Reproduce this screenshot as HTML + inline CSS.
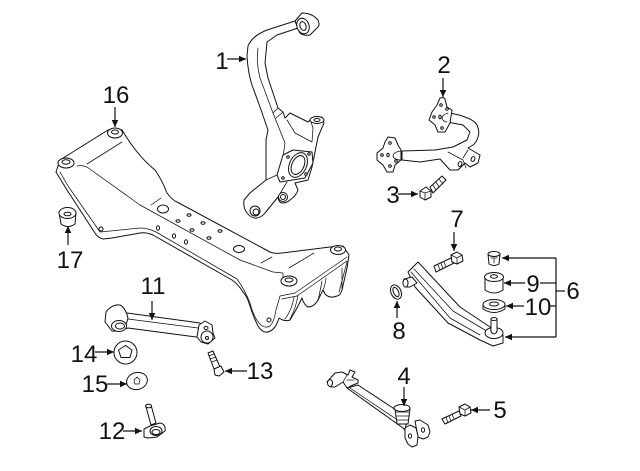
<!DOCTYPE html>
<html><head><meta charset="utf-8"><style>
html,body{margin:0;padding:0;background:#fff}
svg{display:block}
text{font-family:"Liberation Sans",sans-serif;font-size:24px;fill:#111;text-anchor:middle}
.p path,.p ellipse,.p circle,.p polygon{stroke:#111;stroke-width:1;fill:#fff;stroke-linejoin:round;stroke-linecap:round}
.p .n{fill:none;stroke-width:.75}
.a line,.a polyline{stroke:#111;stroke-width:1.2;fill:none}
</style></head><body>
<svg width="640" height="471" viewBox="0 0 640 471" xmlns="http://www.w3.org/2000/svg">
<defs><marker id="h" markerUnits="userSpaceOnUse" markerWidth="8" markerHeight="8" refX="7" refY="4" orient="auto"><path d="M0 .7L7 4L0 7.3Z" fill="#111"/></marker></defs>

<!-- Crossmember -->
<g class="p">
<path d="M56 172L60 160L108 130Q114 128 122 130L127 138Q140 158 155 170Q162 180 167 193Q172 200 177 202L270 252Q275 254 282 253L330 247L343 246L349 255L347 268L342 290Q340 296 337 296Q330 299 325 294L323 290L318 300Q314 307 308 307Q304 305 302 298L297 308L290 320Q285 322 279 318Q278 322 275 327Q270 333 265 332Q261 331 258 326Q253 316 250 306Q247 296 243 292Q238 284 232 280L153 235Q146 232 140 233L112 238L103 239Q98 238 95 233L67 190Z"/>
<path class="n" d="M60 172L68 186L100 232L140 228Q148 228 156 232L237 279Q245 290 250 303Q254 318 260 324Q265 329 270 326Q274 322 276 310L280 296L295 293L347 257"/>
<path class="n" d="M282 299L297 296L347 261"/>
<path class="n" d="M77 166Q82 165 87 167L140 205L240 260L273 272L283 273L283 277"/>
<path class="n" d="M87 164L122 142M151 205L161 198M261 263L272 257M289 268L314 253"/>
<path class="n" d="M298 295Q296 308 290 319M294 297Q292 310 285 319M322 281Q320 292 318 300M326 278Q325 286 323 290M342 268L342 290M347 262L339 292"/>
<ellipse cx="115" cy="133" rx="7.500" ry="5"/><ellipse cx="115" cy="132" rx="3.500" ry="2"/>
<ellipse cx="66" cy="163" rx="8" ry="5"/><ellipse cx="66" cy="162" rx="4" ry="2.200"/>
<ellipse cx="338" cy="250" rx="7.500" ry="4.500"/><ellipse cx="338" cy="249" rx="3.500" ry="2"/>
<ellipse cx="289" cy="281" rx="8" ry="5"/><ellipse cx="289" cy="280" rx="4" ry="2"/>
<ellipse cx="163" cy="209" rx="5.500" ry="4"/><ellipse cx="239" cy="249" rx="5.500" ry="3.500"/>
<ellipse cx="189" cy="215" rx="2" ry="1.300"/><ellipse cx="178" cy="221" rx="2" ry="1.300"/><ellipse cx="203" cy="223" rx="2" ry="1.300"/><ellipse cx="192" cy="230" rx="2" ry="1.300"/><ellipse cx="220" cy="231" rx="2" ry="1.300"/><ellipse cx="209" cy="238" rx="2" ry="1.300"/>
<ellipse cx="158" cy="228" rx="1.500" ry="2.200"/><ellipse cx="174" cy="236" rx="1.500" ry="2.200"/><ellipse cx="186" cy="242" rx="1.500" ry="2.200"/><ellipse cx="101" cy="229" rx="2" ry="2"/><ellipse cx="269" cy="320" rx="2" ry="2"/>
</g>

<!-- 17 bushing -->
<g class="p"><path d="M59 212Q67 205 76 212L75 224Q68 229 61 224Z"/><ellipse cx="67.500" cy="213" rx="8.500" ry="5.500"/><ellipse cx="67.500" cy="214" rx="3.500" ry="1.800"/></g>

<!-- 1 knuckle -->
<g class="p">
<path d="M298 28L295 21L267 30Q252 36 248 46L247 56Q248 73 252 85L260 107L268 130L266 140L266 180L250 193L244 200Q243 208 247 213Q252 219 257 218Q262 217 265 213L278 197Q279 203 282 203Q287 203 290 200Q296 196 298 190L295 183L308 180L312 167L318 137L324 123L322 117L312 118L308 122L290 113L285 118L283 112L278 108L268 78L265 63L267 42L277 35Z"/>
<path class="n" d="M258 48Q256 62 260 78L273 113L285 143L283 157"/>
<path class="n" d="M273 113L278 108M283 112L276 118M287 120L295 133L312 142L313 128L311 122"/>
<path class="n" d="M266 180L277 175M278 197L287 182"/>
<path d="M302 13Q312 13 318 20Q320 25 318 27L310 35Q303 36 300 33L295 21Z"/>
<ellipse cx="303" cy="26" rx="6" ry="8" transform="rotate(-20 303 26)"/><ellipse cx="303" cy="26" rx="3" ry="4.500" transform="rotate(-20 303 26)"/>
<ellipse cx="317" cy="120" rx="7" ry="3.500"/><ellipse cx="317" cy="120" rx="3" ry="1.500"/>
<path d="M283 155L293 150L312 152L313 163L305 178L280 182L277 175Z"/>
<ellipse cx="298" cy="165" rx="8.500" ry="13" transform="rotate(25 298 165)"/><ellipse cx="298" cy="165" rx="6" ry="10" transform="rotate(25 298 165)"/>
<circle cx="288" cy="157" r="1.300"/><circle cx="309" cy="154" r="1.300"/><circle cx="306" cy="174" r="1.300"/><circle cx="283" cy="178" r="1.300"/>
<circle cx="255" cy="211" r="5"/><circle cx="256" cy="212" r="3"/>
<circle cx="283" cy="197" r="4.500"/><circle cx="283" cy="197" r="2.500"/>
</g>

<!-- 2 upper arm -->
<g class="p">
<path d="M447 113Q458 114 465 117Q474 120 477 125Q480 132 478 137Q476 143 473 145L468 148L480 155L478 163L470 167L465 163L458 170L450 170L440 159L420 162L402 160L402 151L435 150L453 147L467 140L470 132L463 125L447 122Z"/>
<path class="n" d="M448 152L463 160L466 168M468 150L463 158"/>
<ellipse cx="473" cy="159" rx="1.800" ry="2.500" transform="rotate(25 473 159)"/><ellipse cx="460" cy="164" rx="1.800" ry="2.500" transform="rotate(25 460 164)"/>
<path d="M440 98Q444 97 445 99L447 107L452 110L450 123L445 132L438 132L435 125L429 120L432 112L437 105Z"/>
<path class="n" d="M448 113Q442 115 442 118Q443 122 447 122"/>
<circle cx="441" cy="105" r="1.300"/><circle cx="434" cy="117" r="1.300"/><circle cx="442" cy="128" r="1.300"/><circle cx="447" cy="109" r="1.300"/><ellipse cx="440" cy="117" rx="1.200" ry="1.800"/>
<path d="M388 137L395 138L398 145L401 150L401 160L395 165L393 172L387 172L383 165L377 160L377 153L383 148L385 142Z"/>
<path class="n" d="M401 151Q393 152 393 156Q394 160 401 160"/>
<circle cx="390" cy="143" r="1.300"/><circle cx="382" cy="155" r="1.300"/><circle cx="390" cy="166" r="1.300"/><circle cx="396" cy="161" r="1.300"/><ellipse cx="388" cy="155" rx="1.200" ry="1.800"/>
</g>

<!-- 3 bolt -->
<g class="p"><path d="M430 187L442 176L446 180L433 193Z"/><path class="n" d="M433 185L436 190M436 182L439 187M439 179L443 184"/><path d="M420 191L426 187L431 191L431 197L425 200L420 197Z"/><path class="n" d="M420 191L425 193L431 191M425 193L425 200"/></g>

<!-- 7 bolt -->
<g class="p"><path d="M434 266L451 258L454 263L436 272Z"/><path class="n" d="M438 265L440 270M441 263L443 269M444 262L446 267"/><path d="M451 255L457 252L462 255L463 261L457 264L452 262Z"/><path class="n" d="M451 255L457 258L462 255M457 258L457 264"/></g>

<!-- 6 lower arm -->
<g class="p">
<path d="M418 262L460 307L490 327L503 335L503 343L493 346L480 340L448 323L415 287L408 272Z"/>
<path class="n" d="M414 269L453 311L490 333M411 272L450 318L480 335"/>
<path d="M404 279L412 277L417 283L410 287L405 287Q402 283 404 279Z"/><ellipse cx="405.500" cy="283" rx="2.500" ry="4"/>
<ellipse cx="494" cy="333" rx="9" ry="5.500"/>
<path d="M491 319L497 319L497 328Q498 333 494 334Q490 333 491 328Z"/><ellipse cx="494" cy="319" rx="3" ry="1.500"/>
</g>

<!-- T bush, 9, 10 -->
<g class="p">
<path d="M488 254L500 254L499 264Q494 267 489 264Z"/><ellipse cx="494" cy="254" rx="6" ry="2.500"/><path class="n" d="M491 258L497 258M494 258L494 263"/>
<path d="M485 277L503 277L503 290Q494 296 485 290Z"/><ellipse cx="494" cy="277" rx="9.500" ry="4.500"/><ellipse cx="494" cy="276.500" rx="3.500" ry="1.700"/>
<path d="M483 305L505 305L505 309Q494 316 483 309Z"/><ellipse cx="494" cy="304.500" rx="11" ry="5"/><ellipse cx="494" cy="304" rx="4.500" ry="2"/>
<ellipse cx="396" cy="292" rx="5" ry="7.500" transform="rotate(-25 396 292)"/><ellipse cx="396" cy="292" rx="2.500" ry="5" transform="rotate(-25 396 292)"/>
</g>

<!-- 11 link -->
<g class="p">
<path d="M122 318L127 313L200 323L206 333L199 337L196 337L128 328L122 330Z"/>
<path class="n" d="M128 319L198 328"/>
<path d="M106 312Q112 304 120 305Q125 307 128 318L126 325Q120 332 112 331L105 322Z"/>
<ellipse cx="119" cy="326" rx="7.500" ry="5.500"/><ellipse cx="120" cy="326" rx="4.500" ry="3"/>
<path d="M199 325L205 321L212 325L213 333L215 338L208 344L201 342L197 337Z"/>
<ellipse cx="207" cy="337" rx="6" ry="6"/><ellipse cx="207" cy="338" rx="1.500" ry="1.500"/><ellipse cx="206" cy="328" rx="2" ry="1.500"/>
</g>

<!-- 14, 15 -->
<g class="p">
<circle cx="125.500" cy="352.500" r="11.500"/><polygon points="125.500,345.500 132,350 130,357.500 121,357.500 118.500,350"/>
<ellipse cx="137" cy="381" rx="10.500" ry="8.500" transform="rotate(-15 137 381)"/><polygon class="n" points="137,377 140,380 139,384 135,384 134,380"/>
</g>

<!-- 13 bolt -->
<g class="p"><path d="M208 353L213 351L220 367L214 369Z"/><path class="n" d="M209 356L214 354M210 359L216 357M212 362L217 360"/><path d="M214 369L221 366L224 372L219 376L215 375Z"/></g>

<!-- 12 -->
<g class="p">
<path d="M146 407L151 405L156 423L151 425Z"/><ellipse cx="148.500" cy="406" rx="3" ry="1.800"/>
<path d="M144 429L150 426L160 423Q166 424 165 431L157 437L148 438L144 437Z"/>
<ellipse cx="156" cy="431" rx="6" ry="4.500"/><ellipse cx="156" cy="432" rx="4" ry="2.500"/>
</g>

<!-- 4 link -->
<g class="p">
<path d="M358 385L393 408L407 420L405 430L403 428L347 388Z"/>
<path class="n" d="M350 388L402 423"/>
<path d="M327 382L335 373L342 372L348 375L350 370L355 372L352 377L358 380L358 383L353 385L347 388L343 382L335 387L331 387Z"/>
<ellipse cx="330" cy="383" rx="2.500" ry="3.500"/><path class="n" d="M343 382L347 375M347 380L354 380"/>
<path d="M395 409L397 424L408 424L410 409Z"/><ellipse cx="402" cy="408" rx="8" ry="3.500"/><path class="n" d="M396 412L409 412M397 416L409 416M397 420L408 420"/>
<path d="M415 421L420 420L428 425L430 432L428 437L423 439L418 437Z"/>
<path d="M405 428L410 425L416 428L418 436L417 445L412 447L408 444L405 438Z"/>
<ellipse cx="410" cy="436" rx="1.600" ry="2.200"/><ellipse cx="423" cy="430" rx="1.600" ry="2.200"/>
</g>

<!-- 5 bolt -->
<g class="p"><path d="M442 419L459 411L461 416L445 424Z"/><path class="n" d="M446 417L448 423M449 416L451 421M452 414L454 419"/><path d="M459 407L465 404L470 407L471 413L465 416L460 414Z"/><path class="n" d="M459 407L465 410L470 407M465 410L465 416"/></g>

<!-- arrows -->
<g class="a">
<line x1="227" y1="59" x2="246" y2="59" marker-end="url(#h)"/>
<line x1="443" y1="78" x2="443" y2="97" marker-end="url(#h)"/>
<line x1="398" y1="194" x2="418" y2="194" marker-end="url(#h)"/>
<line x1="115" y1="107" x2="115" y2="127" marker-end="url(#h)"/>
<line x1="68" y1="245" x2="68" y2="226" marker-end="url(#h)"/>
<line x1="454" y1="232" x2="454" y2="251" marker-end="url(#h)"/>
<line x1="397" y1="318" x2="397" y2="301" marker-end="url(#h)"/>
<line x1="152" y1="301" x2="152" y2="320" marker-end="url(#h)"/>
<line x1="95" y1="352" x2="114" y2="352" marker-end="url(#h)"/>
<line x1="107" y1="384" x2="127" y2="384" marker-end="url(#h)"/>
<line x1="123" y1="431" x2="142" y2="431" marker-end="url(#h)"/>
<line x1="247" y1="371" x2="225" y2="371" marker-end="url(#h)"/>
<line x1="404" y1="387" x2="404" y2="406" marker-end="url(#h)"/>
<line x1="490" y1="410" x2="471" y2="410" marker-end="url(#h)"/>
<polyline points="556,258 502,258" marker-end="url(#h)"/>
<line x1="525" y1="283" x2="504" y2="283" marker-end="url(#h)"/>
<line x1="524" y1="306" x2="506" y2="306" marker-end="url(#h)"/>
<polyline points="556,337 505,337" marker-end="url(#h)"/>
<line x1="556" y1="258" x2="556" y2="337"/>
<line x1="540" y1="283" x2="556" y2="283"/>
<line x1="550" y1="306" x2="556" y2="306"/>
<line x1="556" y1="291" x2="565" y2="291"/>
</g>

<!-- labels -->
<text x="222" y="69">1</text>
<text x="444" y="73">2</text>
<text x="393" y="203">3</text>
<text x="404" y="384">4</text>
<text x="500" y="418">5</text>
<text x="573" y="299">6</text>
<text x="457" y="227">7</text>
<text x="399" y="339">8</text>
<text x="533" y="292">9</text>
<text x="538" y="315">10</text>
<text x="153" y="294">11</text>
<text x="112" y="439">12</text>
<text x="260" y="379">13</text>
<text x="84" y="362">14</text>
<text x="95" y="392">15</text>
<text x="116" y="103">16</text>
<text x="70" y="268">17</text>
</svg>
</body></html>
